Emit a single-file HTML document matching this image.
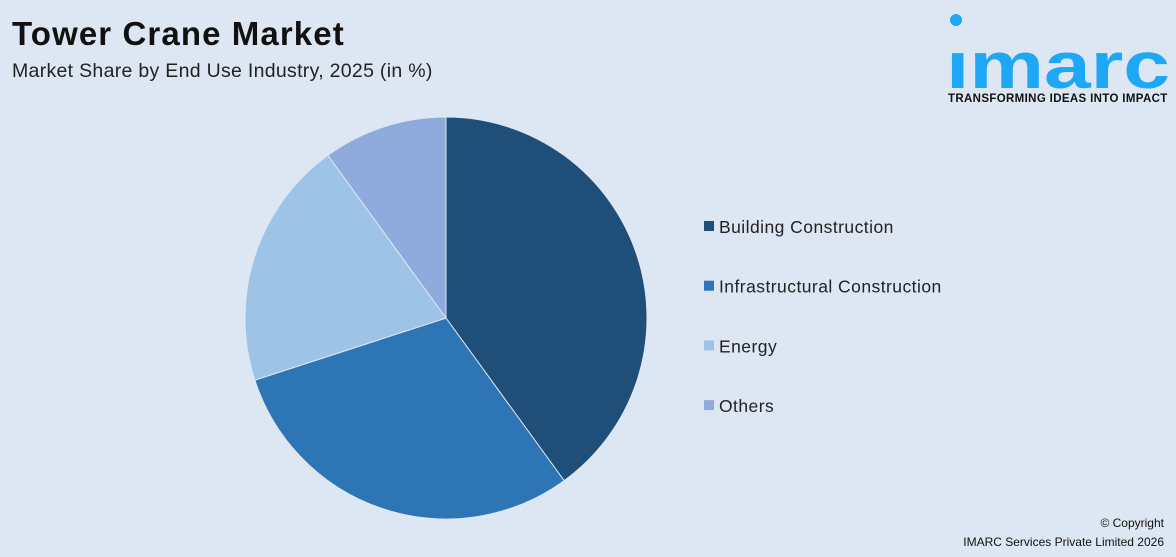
<!DOCTYPE html>
<html><head><meta charset="utf-8">
<style>
html,body{margin:0;padding:0;}
body{width:1176px;height:557px;background:#dde6f3;font-family:"Liberation Sans",Arial,sans-serif;position:relative;overflow:hidden;}
.title{position:absolute;left:12px;top:15px;font-size:33px;font-weight:bold;color:#111;letter-spacing:1.1px;}
.sub{position:absolute;left:12px;top:60px;font-size:19.5px;color:#222;letter-spacing:0.3px;}
.logo{position:absolute;left:946px;top:8px;}
.tag{position:absolute;left:948px;top:93px;font-size:11.5px;font-weight:bold;color:#111;letter-spacing:0.35px;}
.copy{position:absolute;right:12px;top:514px;font-size:12px;color:#111;text-align:right;line-height:19px;}
</style></head><body>
<div class="title">Tower Crane Market</div>
<div class="sub">Market Share by End Use Industry, 2025 (in %)</div>
<svg class="logo" width="230" height="85">
<circle cx="10" cy="12" r="6" fill="#1ea7f5"/>
<text x="0" y="80" font-family="Liberation Sans, sans-serif" font-weight="bold" font-size="66" fill="#1ea7f5" textLength="224" lengthAdjust="spacingAndGlyphs">ımarc</text>
</svg>
<div class="tag">TRANSFORMING IDEAS INTO IMPACT</div>
<svg id="chart" width="1176" height="557" style="position:absolute;left:0;top:0"></svg>
<div class="copy">© Copyright<br>IMARC Services Private Limited 2026</div>
<script>
const categories=["Building Construction","Infrastructural Construction","Energy","Others"];
const values=[40,30,20,10];
const colors=["#1f4e79","#2e75b6","#9dc3e6","#8faadc"];
const svg=document.getElementById('chart');
const NS="http://www.w3.org/2000/svg";
const cx=446,cy=318,r=201;
const total=values.reduce((a,b)=>a+b,0);
let a0=0;
values.forEach((v,i)=>{
  const a1=a0+v/total*2*Math.PI;
  const x0=cx+r*Math.sin(a0),y0=cy-r*Math.cos(a0);
  const x1=cx+r*Math.sin(a1),y1=cy-r*Math.cos(a1);
  const large=(a1-a0)>Math.PI?1:0;
  const p=document.createElementNS(NS,'path');
  p.setAttribute('d',`M${cx},${cy} L${x0},${y0} A${r},${r} 0 ${large} 1 ${x1},${y1} Z`);
  p.setAttribute('fill',colors[i]);
  p.setAttribute('stroke','#dde6f3');p.setAttribute('stroke-width','1');
  
  
  svg.appendChild(p);
  a0=a1;
  const ly=227+i*59.7;
  const sq=document.createElementNS(NS,'rect');
  sq.setAttribute('x',704);sq.setAttribute('y',ly-6);sq.setAttribute('width',10);sq.setAttribute('height',10);
  sq.setAttribute('fill',colors[i]);
  
  
  svg.appendChild(sq);
  const t=document.createElementNS(NS,'text');
  t.setAttribute('x',719);t.setAttribute('y',ly+6);
  t.setAttribute('font-size','17.5');t.setAttribute('fill','#222');
  t.setAttribute('letter-spacing','0.45');
  t.setAttribute('font-family','Liberation Sans, sans-serif');
  t.textContent=categories[i];
  
  
  svg.appendChild(t);
});
</script>
</body></html>
